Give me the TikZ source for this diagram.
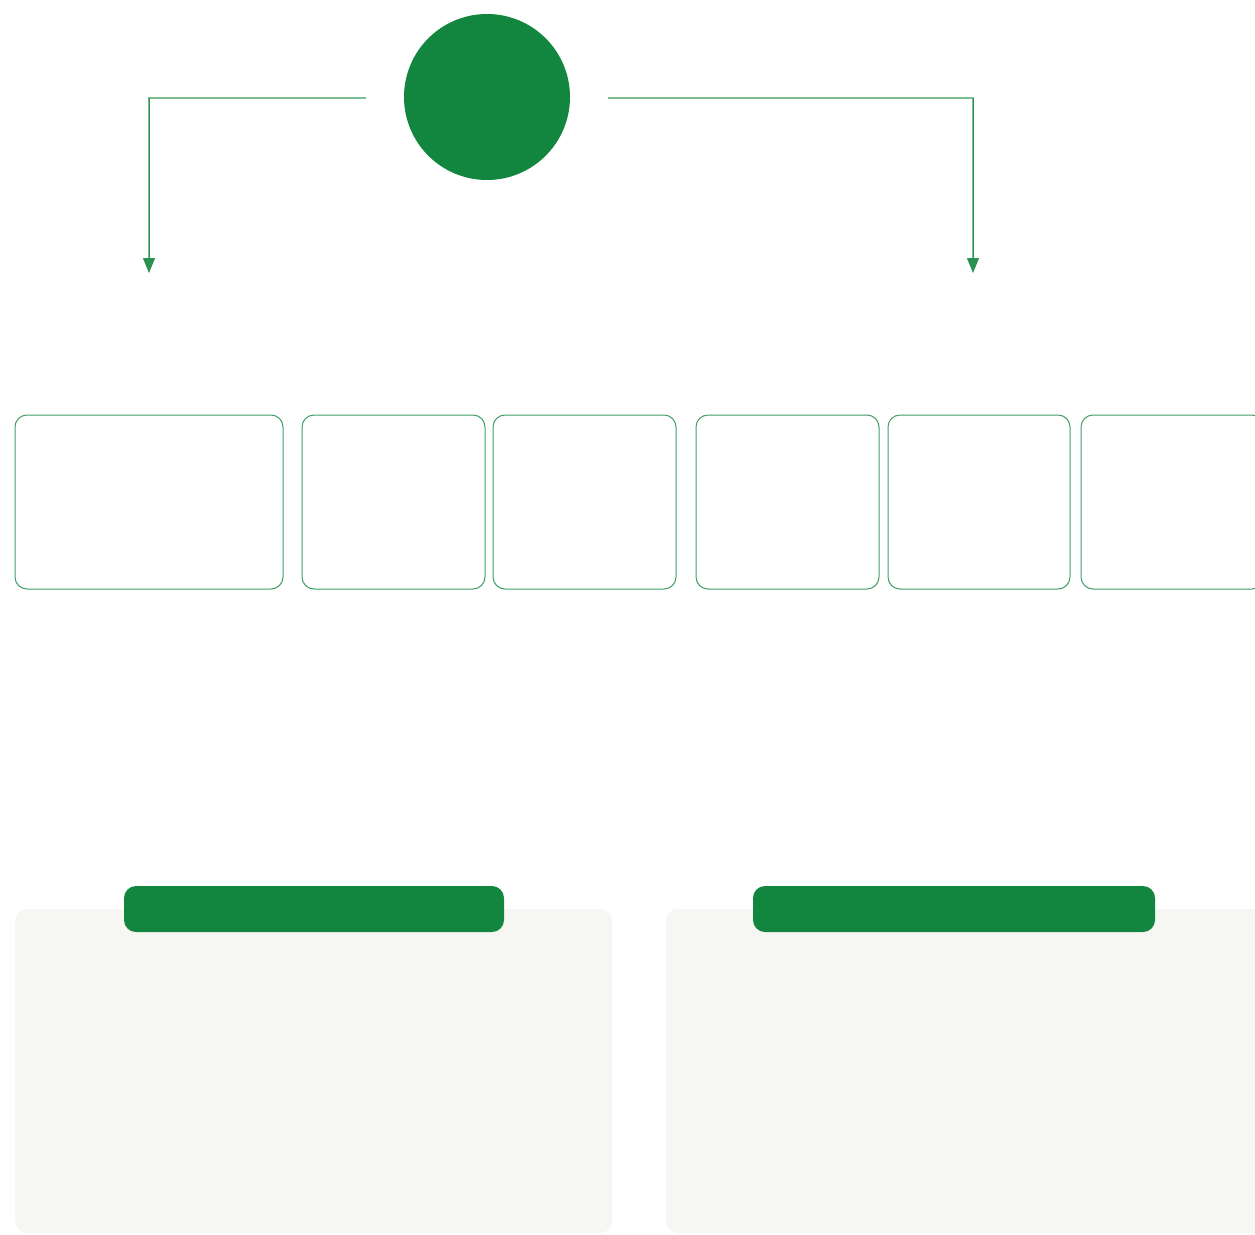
\documentclass[tikz,border=0pt]{standalone}
\usetikzlibrary{arrows.meta}
\definecolor{brand}{RGB}{18,133,62}
\definecolor{panelbg}{RGB}{246,247,243}
\definecolor{linkgreen}{RGB}{120,190,145}
\tikzset{
  hub/.style={circle, fill=brand, draw=none, minimum size=166pt, inner sep=0pt},
  slot/.style={draw=brand!80, line width=1pt, rounded corners=12pt, fill=white},
  panel/.style={fill=panelbg, draw=none, rounded corners=12pt},
  tab/.style={fill=brand, draw=none, rounded corners=12pt},
  link/.style={draw=linkgreen, line width=1.3pt},
  drop/.style={draw=brand!90, line width=1pt, -{Triangle[length=15pt,width=12pt]}},
}
\begin{document}
\begin{tikzpicture}[x=1pt,y=-1pt]
\useasboundingbox (0,0) rectangle (1255,1234);
\clip (0,0) rectangle (1255,1234);
\fill[white] (0,0) rectangle (1255,1234);
% hub
\node[hub] (hub) at (487,97) {};
% connector ends
\coordinate (lstart) at (366,98);
\coordinate (lcorner) at (149,98);
\coordinate (lknee) at (149,258);
\coordinate (lend) at (149,273);
\coordinate (rstart) at (608,98);
\coordinate (rcorner) at (973,98);
\coordinate (rknee) at (973,258);
\coordinate (rend) at (973,273);
\draw[link] (lstart) -- (lcorner) -- (lknee);
\draw[drop] (lcorner) -- (lend);
\draw[link] (rstart) -- (rcorner) -- (rknee);
\draw[drop] (rcorner) -- (rend);
% slots
\draw[slot] (15,415) rectangle (283,589);
\draw[slot] (302,415) rectangle (485,589);
\draw[slot] (493,415) rectangle (676,589);
\draw[slot] (696,415) rectangle (879,589);
\draw[slot] (888,415) rectangle (1070,589);
\draw[slot] (1081,415) rectangle (1264,589);
% panels
\fill[panel] (15,909) rectangle (612,1233);
\fill[panel] (666,909) rectangle (1275,1233);
\fill[tab] (124,886) rectangle (504,932);
\fill[tab] (753,886) rectangle (1155,932);
\end{tikzpicture}
\end{document}
